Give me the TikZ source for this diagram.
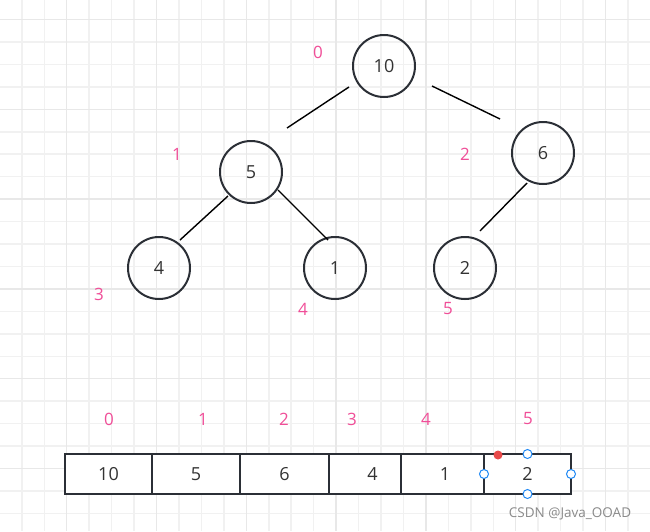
\documentclass[tikz,border=0pt]{standalone}
\usepackage{fontspec}
\setmainfont{Open Sans}
\begin{document}
\begin{tikzpicture}[x=1pt,y=-1pt,
  heapnode/.style={circle,draw=nodeline,line width=2pt,minimum size=62pt,inner sep=0pt,font=\fontsize{18}{20}\selectfont,text=txt},
  idx/.style={text=pinkc,font=\fontsize{17}{20}\selectfont,inner sep=0pt},
  cell/.style={draw=nodeline,fill=white,line width=2pt,minimum height=40pt,minimum width=87pt,inner sep=0pt,outer sep=0pt,font=\fontsize{18}{20}\selectfont,text=txt},
  edge/.style={line width=1.4pt,black},
  handle/.style={circle,draw=handleblue,fill=white,line width=1pt,minimum size=9pt,inner sep=0pt}]
\definecolor{nodeline}{HTML}{2B2F36}
\definecolor{txt}{HTML}{333333}
\definecolor{pinkc}{HTML}{F04E98}
\definecolor{handleblue}{HTML}{1E88F5}
\definecolor{reddot}{HTML}{E84A4A}
\definecolor{gminor}{HTML}{F1F1F1}
\definecolor{gmajor}{HTML}{E8E8E8}
\definecolor{wm}{HTML}{8A8A8A}
\useasboundingbox (0,0) rectangle (650,531);
\fill[white] (0,0) rectangle (650,531);
% grid
\foreach \i in {-3,...,26} {
  \pgfmathsetmacro{\gx}{66.7+22.45*\i}
  \draw[gminor,line width=1.5pt] (\gx,0) -- (\gx,531);
}
\foreach \i in {-5,...,19} {
  \pgfmathsetmacro{\gy}{109.3+22.45*\i}
  \draw[gminor,line width=1.5pt] (0,\gy) -- (650,\gy);
}
\foreach \i in {-1,...,6} {
  \pgfmathsetmacro{\gx}{66.7+89.8*\i}
  \draw[gmajor,line width=1.5pt] (\gx,0) -- (\gx,531);
}
\foreach \i in {-1,...,5} {
  \pgfmathsetmacro{\gy}{109.3+89.8*\i}
  \draw[gmajor,line width=1.5pt] (0,\gy) -- (650,\gy);
}
% tree nodes
\node[heapnode] (n0) at (384,66) {10};
\node[heapnode] (n1) at (251,172) {5};
\node[heapnode] (n2) at (543,153) {6};
\node[heapnode] (n3) at (159,268) {4};
\node[heapnode] (n4) at (335,268) {1};
\node[heapnode] (n5) at (465,268) {2};
% edge end points (the edges stop short of the circles)
\coordinate (e1a) at (349,87);  \coordinate (e1b) at (287,128);
\coordinate (e2a) at (432,86);  \coordinate (e2b) at (500,119);
\coordinate (e3a) at (228,196); \coordinate (e3b) at (180,240);
\coordinate (e4a) at (278,190); \coordinate (e4b) at (328,240);
\coordinate (e5a) at (527,183); \coordinate (e5b) at (480,231);
\draw[edge] (e1a) -- (e1b);
\draw[edge] (e2a) -- (e2b);
\draw[edge] (e3a) -- (e3b);
\draw[edge] (e4a) -- (e4b);
\draw[edge] (e5a) -- (e5b);
% tree index labels
\node[idx] (t0) at (318,52) {0};
\node[idx] (t1) at (177,154) {1};
\node[idx] (t2) at (465,154) {2};
\node[idx] (t3) at (99,294) {3};
\node[idx] (t4) at (303,309) {4};
\node[idx] (t5) at (448,309) {5};
% array (cells overlap; later ones cover earlier ones)
\node[cell] (c0) at (108.5,474) {10};
\node[cell,minimum width=88pt] (c1) at (196,474) {5};
\node[cell,minimum width=89pt] (c2) at (284.5,474) {6};
\node[cell] (c3) at (372.5,474) {4};
\node[cell,minimum width=88pt] (c4) at (445,474) {1};
\node[cell] (c5) at (527.5,474) {2};
% array index labels
\node[idx] (a0) at (109,419) {0};
\node[idx] (a1) at (203,419) {1};
\node[idx] (a2) at (284,419) {2};
\node[idx] (a3) at (352,419) {3};
\node[idx] (a4) at (426,419) {4};
\node[idx] (a5) at (528,419) {5};
% selection handles on the last cell
\node[handle] (h1) at (c5.west) {};
\node[handle] (h2) at (c5.east) {};
\node[handle] (h3) at (c5.north) {};
\node[handle] (h4) at (c5.south) {};
\node[circle,fill=reddot,minimum size=9pt,inner sep=0pt] (rd) at (498,455) {};
% watermark
\node[text=wm,font=\fontsize{13.5}{15}\selectfont,inner sep=0pt] (wmark) at (570,514) {CSDN @Java\_OOAD};
\end{tikzpicture}
\end{document}
